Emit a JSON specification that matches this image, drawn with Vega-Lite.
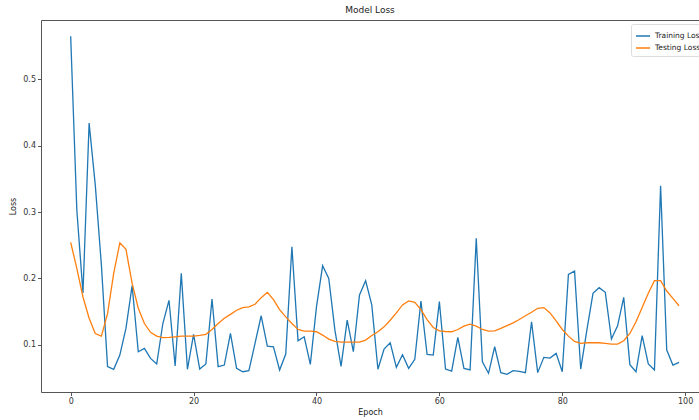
{
  "$schema": "https://vega.github.io/schema/vega-lite/v6.json",
  "width": 658,
  "height": 372,
  "autosize": {"type": "none"},
  "padding": {"left": 41, "top": 20, "right": 0, "bottom": 28},
  "background": "white",
  "title": {"text": "Model Loss", "fontSize": 9, "font": "DejaVu Sans", "fontWeight": "normal", "color": "#222", "offset": 5, "anchor": "middle"},
  "config": {
    "view": {"stroke": "#555", "strokeWidth": 1},
    "font": "DejaVu Sans",
    "axis": {"grid": false, "domain": false, "tickColor": "#555", "tickSize": 3.5, "labelFontSize": 8, "labelColor": "#333", "labelPadding": 2, "titleFontSize": 8, "titleFontWeight": "normal", "titleColor": "#222", "labelFont": "DejaVu Sans", "titleFont": "DejaVu Sans"}
  },
  "data": {"values": [
    {"epoch":0,"Training Loss":0.565,"Testing Loss":0.2543},
    {"epoch":1,"Training Loss":0.303,"Testing Loss":0.215},
    {"epoch":2,"Training Loss":0.178,"Testing Loss":0.172},
    {"epoch":3,"Training Loss":0.434,"Testing Loss":0.14},
    {"epoch":4,"Training Loss":0.341,"Testing Loss":0.117},
    {"epoch":5,"Training Loss":0.22,"Testing Loss":0.113},
    {"epoch":6,"Training Loss":0.067,"Testing Loss":0.147},
    {"epoch":7,"Training Loss":0.063,"Testing Loss":0.2076},
    {"epoch":8,"Training Loss":0.0845,"Testing Loss":0.2537},
    {"epoch":9,"Training Loss":0.125,"Testing Loss":0.2437},
    {"epoch":10,"Training Loss":0.189,"Testing Loss":0.1925},
    {"epoch":11,"Training Loss":0.0895,"Testing Loss":0.155},
    {"epoch":12,"Training Loss":0.0945,"Testing Loss":0.132},
    {"epoch":13,"Training Loss":0.0795,"Testing Loss":0.1187},
    {"epoch":14,"Training Loss":0.071,"Testing Loss":0.113},
    {"epoch":15,"Training Loss":0.132,"Testing Loss":0.1106},
    {"epoch":16,"Training Loss":0.167,"Testing Loss":0.111},
    {"epoch":17,"Training Loss":0.068,"Testing Loss":0.112},
    {"epoch":18,"Training Loss":0.2076,"Testing Loss":0.113},
    {"epoch":19,"Training Loss":0.063,"Testing Loss":0.113},
    {"epoch":20,"Training Loss":0.1157,"Testing Loss":0.113},
    {"epoch":21,"Training Loss":0.0634,"Testing Loss":0.114},
    {"epoch":22,"Training Loss":0.071,"Testing Loss":0.1157},
    {"epoch":23,"Training Loss":0.169,"Testing Loss":0.123},
    {"epoch":24,"Training Loss":0.067,"Testing Loss":0.132},
    {"epoch":25,"Training Loss":0.0694,"Testing Loss":0.14},
    {"epoch":26,"Training Loss":0.117,"Testing Loss":0.1458},
    {"epoch":27,"Training Loss":0.0644,"Testing Loss":0.152},
    {"epoch":28,"Training Loss":0.0593,"Testing Loss":0.1558},
    {"epoch":29,"Training Loss":0.0608,"Testing Loss":0.157},
    {"epoch":30,"Training Loss":0.102,"Testing Loss":0.161},
    {"epoch":31,"Training Loss":0.1437,"Testing Loss":0.171},
    {"epoch":32,"Training Loss":0.098,"Testing Loss":0.179},
    {"epoch":33,"Training Loss":0.097,"Testing Loss":0.168},
    {"epoch":34,"Training Loss":0.0619,"Testing Loss":0.153},
    {"epoch":35,"Training Loss":0.086,"Testing Loss":0.142},
    {"epoch":36,"Training Loss":0.2477,"Testing Loss":0.132},
    {"epoch":37,"Training Loss":0.106,"Testing Loss":0.123},
    {"epoch":38,"Training Loss":0.112,"Testing Loss":0.1206},
    {"epoch":39,"Training Loss":0.0705,"Testing Loss":0.1206},
    {"epoch":40,"Training Loss":0.157,"Testing Loss":0.1196},
    {"epoch":41,"Training Loss":0.219,"Testing Loss":0.1146},
    {"epoch":42,"Training Loss":0.2,"Testing Loss":0.1086},
    {"epoch":43,"Training Loss":0.122,"Testing Loss":0.105},
    {"epoch":44,"Training Loss":0.0675,"Testing Loss":0.104},
    {"epoch":45,"Training Loss":0.137,"Testing Loss":0.104},
    {"epoch":46,"Training Loss":0.0895,"Testing Loss":0.104},
    {"epoch":47,"Training Loss":0.175,"Testing Loss":0.104},
    {"epoch":48,"Training Loss":0.1965,"Testing Loss":0.107},
    {"epoch":49,"Training Loss":0.16,"Testing Loss":0.114},
    {"epoch":50,"Training Loss":0.063,"Testing Loss":0.1196},
    {"epoch":51,"Training Loss":0.0935,"Testing Loss":0.127},
    {"epoch":52,"Training Loss":0.103,"Testing Loss":0.137},
    {"epoch":53,"Training Loss":0.066,"Testing Loss":0.148},
    {"epoch":54,"Training Loss":0.085,"Testing Loss":0.16},
    {"epoch":55,"Training Loss":0.0644,"Testing Loss":0.166},
    {"epoch":56,"Training Loss":0.078,"Testing Loss":0.164},
    {"epoch":57,"Training Loss":0.166,"Testing Loss":0.153},
    {"epoch":58,"Training Loss":0.0855,"Testing Loss":0.138},
    {"epoch":59,"Training Loss":0.0845,"Testing Loss":0.126},
    {"epoch":60,"Training Loss":0.165,"Testing Loss":0.121},
    {"epoch":61,"Training Loss":0.0634,"Testing Loss":0.12},
    {"epoch":62,"Training Loss":0.0604,"Testing Loss":0.1196},
    {"epoch":63,"Training Loss":0.111,"Testing Loss":0.123},
    {"epoch":64,"Training Loss":0.0644,"Testing Loss":0.128},
    {"epoch":65,"Training Loss":0.062,"Testing Loss":0.131},
    {"epoch":66,"Training Loss":0.2604,"Testing Loss":0.128},
    {"epoch":67,"Training Loss":0.0744,"Testing Loss":0.123},
    {"epoch":68,"Training Loss":0.057,"Testing Loss":0.1206},
    {"epoch":69,"Training Loss":0.097,"Testing Loss":0.121},
    {"epoch":70,"Training Loss":0.058,"Testing Loss":0.1247},
    {"epoch":71,"Training Loss":0.0554,"Testing Loss":0.1287},
    {"epoch":72,"Training Loss":0.061,"Testing Loss":0.133},
    {"epoch":73,"Training Loss":0.06,"Testing Loss":0.138},
    {"epoch":74,"Training Loss":0.058,"Testing Loss":0.1437},
    {"epoch":75,"Training Loss":0.1347,"Testing Loss":0.149},
    {"epoch":76,"Training Loss":0.058,"Testing Loss":0.155},
    {"epoch":77,"Training Loss":0.081,"Testing Loss":0.156},
    {"epoch":78,"Training Loss":0.08,"Testing Loss":0.148},
    {"epoch":79,"Training Loss":0.087,"Testing Loss":0.136},
    {"epoch":80,"Training Loss":0.0593,"Testing Loss":0.123},
    {"epoch":81,"Training Loss":0.206,"Testing Loss":0.113},
    {"epoch":82,"Training Loss":0.211,"Testing Loss":0.105},
    {"epoch":83,"Training Loss":0.0634,"Testing Loss":0.102},
    {"epoch":84,"Training Loss":0.122,"Testing Loss":0.103},
    {"epoch":85,"Training Loss":0.1775,"Testing Loss":0.103},
    {"epoch":86,"Training Loss":0.186,"Testing Loss":0.103},
    {"epoch":87,"Training Loss":0.179,"Testing Loss":0.102},
    {"epoch":88,"Training Loss":0.1086,"Testing Loss":0.101},
    {"epoch":89,"Training Loss":0.1286,"Testing Loss":0.101},
    {"epoch":90,"Training Loss":0.1714,"Testing Loss":0.106},
    {"epoch":91,"Training Loss":0.07,"Testing Loss":0.117},
    {"epoch":92,"Training Loss":0.0593,"Testing Loss":0.1347},
    {"epoch":93,"Training Loss":0.1136,"Testing Loss":0.156},
    {"epoch":94,"Training Loss":0.071,"Testing Loss":0.1775},
    {"epoch":95,"Training Loss":0.062,"Testing Loss":0.1965},
    {"epoch":96,"Training Loss":0.3397,"Testing Loss":0.1965},
    {"epoch":97,"Training Loss":0.092,"Testing Loss":0.181},
    {"epoch":98,"Training Loss":0.0694,"Testing Loss":0.17},
    {"epoch":99,"Training Loss":0.0735,"Testing Loss":0.1588}
  ]},
  "transform": [{"fold": ["Training Loss", "Testing Loss"], "as": ["series", "loss"]}],
  "mark": {"type": "line", "strokeWidth": 1.3},
  "encoding": {
    "x": {"field": "epoch", "type": "quantitative", "scale": {"domain": [-4.83, 102.25], "nice": false, "zero": false},
          "axis": {"values": [0, 20, 40, 60, 80, 100], "title": "Epoch", "titlePadding": 3}},
    "y": {"field": "loss", "type": "quantitative", "scale": {"domain": [0.0288, 0.5894], "nice": false, "zero": false},
          "axis": {"values": [0.1, 0.2, 0.3, 0.4, 0.5], "format": ".1f", "title": "Loss", "titlePadding": 5}},
    "color": {"field": "series", "type": "nominal",
              "scale": {"domain": ["Training Loss", "Testing Loss"], "range": ["#1f77b4", "#ff7f0e"]},
              "legend": {"title": null, "orient": "none", "legendX": 590, "legendY": 4, "symbolType": "stroke", "symbolSize": 196, "symbolStrokeWidth": 1.5, "labelFontSize": 7.5, "labelColor": "#222", "labelFont": "DejaVu Sans", "rowPadding": 0, "padding": 4, "strokeColor": "#ddd", "fillColor": "white", "cornerRadius": 2, "labelOffset": 4}}
  }
}
